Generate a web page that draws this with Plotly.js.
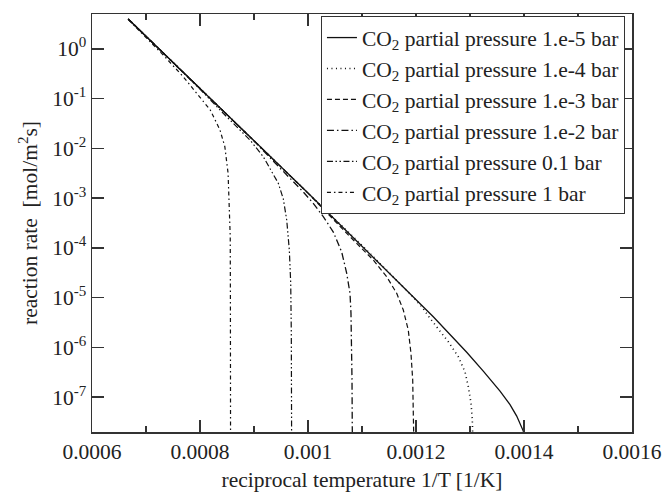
<!DOCTYPE html>
<html>
<head>
<meta charset="utf-8">
<script src="https://cdn.plot.ly/plotly-3.0.1.min.js"></script>
<style>html,body{margin:0;padding:0;background:#fff;}#chart{width:666px;height:492px;}</style>
</head>
<body>
<div id="chart"></div>
<script>
// ---- data (x = 1/T [1/K], y = reaction rate [mol/m^2 s]) ----
const seriesNames = [
  "CO<sub>2</sub> partial pressure 1.e-5 bar",
  "CO<sub>2</sub> partial pressure 1.e-4 bar",
  "CO<sub>2</sub> partial pressure 1.e-3 bar",
  "CO<sub>2</sub> partial pressure 1.e-2 bar",
  "CO<sub>2</sub> partial pressure 0.1 bar",
  "CO<sub>2</sub> partial pressure 1 bar"
];

const invT_1em5 = [0.000667, 0.0010, 0.001232, 0.001263, 0.0012939, 0.0013246, 0.0013556, 0.0013741, 0.0013865, 0.0013987, 0.001404];
const rate_1em5 = [3.98, 1.27e-3, 4.14e-6, 1.85e-6, 7.98e-7, 3.34e-7, 1.32e-7, 7.1e-8, 4.17e-8, 2.08e-8, 1e-8];

const invT_1em4 = [0.000667, 0.0011, 0.001195, 0.0012106, 0.0012259, 0.0012383, 0.0012598, 0.0012783, 0.0012907, 0.0012969, 0.0013019, 0.0013043, 0.001305, 0.0013056];
const rate_1em4 = [3.98, 1.12e-4, 1.02e-5, 6.6e-6, 3.85e-6, 2.61e-6, 1.30e-6, 6.5e-7, 3.24e-7, 1.62e-7, 7.5e-8, 3.48e-8, 2.55e-8, 1e-8];

const invT_1em3 = [0.000667, 0.0010, 0.0010778, 0.0010963, 0.0011209, 0.0011457, 0.0011643, 0.0011765, 0.0011857, 0.0011907, 0.0011939, 0.001195, 0.0011962];
const rate_1em3 = [3.98, 1.26e-3, 1.68e-4, 1.06e-4, 5.7e-5, 2.64e-5, 1.22e-5, 5.64e-6, 2.23e-6, 7.6e-7, 2.21e-7, 4.73e-8, 1e-8];

const invT_1em2 = [0.000667, 0.0009, 0.0009481, 0.0009913, 0.0010098, 0.0010283, 0.0010469, 0.0010624, 0.0010717, 0.0010778, 0.0010796, 0.0010809, 0.0010815, 0.001082, 0.0010824];
const rate_1em2 = [3.98, 0.0141, 0.00403, 0.00133, 7.87e-4, 4.23e-4, 2.08e-4, 8.26e-5, 3.08e-5, 1.22e-5, 4.84e-6, 1.41e-6, 2.21e-7, 2.3e-8, 1e-8];

const invT_1em1 = [0.000667, 0.0008, 0.0008431, 0.0008741, 0.0008926, 0.0009172, 0.0009296, 0.000945, 0.0009543, 0.0009606, 0.0009654, 0.000968, 0.0009691, 0.0009694, 0.0009697];
const rate_1em1 = [3.96, 0.155, 0.0506, 0.0234, 0.0147, 0.00679, 0.00403, 0.00199, 9.6e-4, 3.63e-4, 9.06e-5, 1.94e-5, 1.92e-6, 2.2e-8, 1e-8];

const invT_1 = [0.000667, 0.0007, 0.000729, 0.000769, 0.000794, 0.000819, 0.000837, 0.000846, 0.000852, 0.000854, 0.000856, 0.0008563, 0.0008566];
const rate_1 = [3.9, 1.72, 0.81, 0.275, 0.128, 0.059, 0.0234, 0.0108, 0.00315, 6.7e-4, 1.68e-4, 1e-5, 1e-8];

const xTickVals = [0.0006, 0.0008, 0.0010, 0.0012, 0.0014, 0.0016];
const xTickText = ["0.0006", "0.0008", "0.001", "0.0012", "0.0014", "0.0016"];
const yTickVals = [1, 1e-1, 1e-2, 1e-3, 1e-4, 1e-5, 1e-6, 1e-7];
const yTickText = ["10<sup>0</sup>", "10<sup>-1</sup>", "10<sup>-2</sup>", "10<sup>-3</sup>", "10<sup>-4</sup>", "10<sup>-5</sup>", "10<sup>-6</sup>", "10<sup>-7</sup>"];

// ---- styles ----
const xs = [invT_1em5, invT_1em4, invT_1em3, invT_1em2, invT_1em1, invT_1];
const ys = [rate_1em5, rate_1em4, rate_1em3, rate_1em2, rate_1em1, rate_1];
const dashes = ["solid", "1px,3.5px", "5px,3px", "7px,3px,1.5px,3px", "6px,2.5px,1.5px,2.5px,1.5px,2.5px", "4px,3px,1.5px,3px"];
const widths = [1.3, 1.6, 1.2, 1.3, 1.2, 1.2];

const traces = xs.map((x, i) => ({
  type: "scatter", mode: "lines",
  x: x, y: ys[i], name: seriesNames[i],
  legendgroup: "g" + i,
  line: {color: "#111", width: widths[i], dash: dashes[i]}
}));

const font = {family: "Liberation Serif, Times New Roman, serif", size: 21.5, color: "#222"};

const layout = {
  width: 666, height: 492,
  margin: {l: 92, r: 34, t: 14, b: 60},
  paper_bgcolor: "#fff", plot_bgcolor: "#fff",
  font: font,
  showlegend: true,
  legend: {
    x: 0.424, y: 0.995, xanchor: "left", yanchor: "top",
    bgcolor: "#fff", bordercolor: "#333", borderwidth: 1,
    font: font, tracegroupgap: 0, traceorder: "grouped",
    itemwidth: 30
  },
  xaxis: {
    range: [0.0006, 0.0016],
    tickmode: "array", tickvals: xTickVals, ticktext: xTickText,
    ticks: "inside", ticklen: 12, tickwidth: 1.5, tickcolor: "#333",
    ticklabelstandoff: 0,
    minor: {tickmode: "linear", tick0: 0.0006, dtick: 0.0001, ticks: "inside", ticklen: 6, tickwidth: 1.5, tickcolor: "#333"},
    showline: true, linecolor: "#333", linewidth: 1.5, mirror: "ticks",
    showgrid: false, zeroline: false,
    title: {text: "reciprocal temperature 1/T [1/K]", font: font, standoff: 8}
  },
  yaxis: {
    type: "log", range: [-7.7, 0.7],
    tickmode: "array", tickvals: yTickVals, ticktext: yTickText,
    ticks: "inside", ticklen: 12, tickwidth: 1.5, tickcolor: "#333",
    showline: true, linecolor: "#333", linewidth: 1.5, mirror: "ticks",
    showgrid: false, zeroline: false,
    title: {text: "reaction rate  [mol/m<sup>2</sup>s]", font: font, standoff: 8}
  }
};

Plotly.newPlot("chart", traces, layout, {displayModeBar: false, staticPlot: true});
</script>
</body>
</html>
